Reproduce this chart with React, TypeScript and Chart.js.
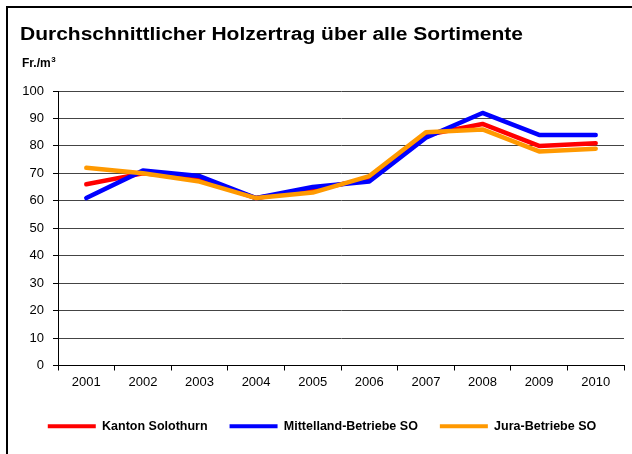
import React, { useEffect, useRef } from "react";
import { Chart, registerables } from "chart.js";

Chart.register(...registerables);

const titleText = "Durchschnittlicher Holzertrag über alle Sortimente";
const unitBase = "Fr./m";
const unitSup = "3";
const years = ["2001", "2002", "2003", "2004", "2005", "2006", "2007", "2008", "2009", "2010"];
const seriesNames = ["Kanton Solothurn", "Mittelland-Betriebe SO", "Jura-Betriebe SO"];
const kanton = [66, 70, 68, 61, 64, 68, 84, 88, 80, 81];
const mittelland = [61, 71, 69, 61, 65, 67, 83, 92, 84, 84];
const jura = [72, 70, 67, 61, 63, 69, 85, 86, 78, 79];
const yMin = 0;
const yMax = 100;
const yStep = 10;

const FONT = "'Liberation Sans', Arial, Helvetica, sans-serif";

const framePlugin = {
  id: "frame",
  beforeDraw(chart: any) {
    const ctx = chart.ctx;
    ctx.save();
    ctx.fillStyle = "#ffffff";
    ctx.fillRect(0, 0, chart.width, chart.height);
    ctx.restore();
  },
  afterDraw(chart: any) {
    const ctx = chart.ctx;
    ctx.save();
    ctx.fillStyle = "#000000";
    ctx.fillRect(6, 6, chart.width - 6, 2);
    ctx.fillRect(6, 6, 2, chart.height - 6);
    ctx.textBaseline = "alphabetic";
    ctx.textAlign = "left";
    ctx.font = `bold 18px ${FONT}`;
    const w = ctx.measureText(titleText).width;
    const sx = 503 / w;
    ctx.save();
    ctx.translate(20, 39.5);
    ctx.scale(sx, 1);
    ctx.fillText(titleText, 0, 0);
    ctx.restore();
    ctx.font = `bold 12px ${FONT}`;
    ctx.fillText(unitBase, 22, 67);
    const bw = ctx.measureText(unitBase).width;
    ctx.font = `bold 8px ${FONT}`;
    ctx.fillText(unitSup, 22 + bw + 0.5, 62);
    ctx.restore();
  },
};

export default function App() {
  const ref = useRef<HTMLCanvasElement>(null);
  useEffect(() => {
    if (!ref.current) return;
    const mk = (label: string, data: number[], color: string, order: number) => ({
      label,
      data,
      borderColor: color,
      backgroundColor: color,
      borderWidth: 4.5,
      pointRadius: 0,
      borderJoinStyle: "round" as const,
      borderCapStyle: "round" as const,
      tension: 0,
      order,
    });
    const chart = new Chart(ref.current, {
      type: "line",
      data: {
        labels: years,
        datasets: [
          mk(seriesNames[0], kanton, "#ff0000", 2),
          mk(seriesNames[1], mittelland, "#0000ff", 1),
          mk(seriesNames[2], jura, "#ff9900", 0),
        ],
      },
      options: {
        animation: false,
        responsive: false,
        devicePixelRatio: 1,
        layout: { padding: { left: 20, right: 8, top: 91, bottom: 11.5 } },
        plugins: {
          title: { display: false },
          tooltip: { enabled: false },
          legend: {
            display: true,
            position: "bottom",
            labels: {
              boxWidth: 48,
              boxHeight: 4,
              padding: 22,
              color: "#000",
              font: { family: FONT, size: 12.5, weight: "bold" },
              sort: (a: any, b: any) => a.datasetIndex - b.datasetIndex,
              generateLabels(chart: any) {
                const items = Chart.defaults.plugins.legend.labels.generateLabels(chart);
                return items.map((it: any) => ({ ...it, lineWidth: 0 }));
              },
            },
          },
        },
        scales: {
          x: {
            offset: true,
            afterFit(scale: any) {
              scale.height = 32.5;
            },
            grid: {
              display: true,
              drawOnChartArea: false,
              drawTicks: true,
              tickLength: 5,
              offset: true,
              color: "#000",
            },
            border: { display: true, color: "#000", width: 1 },
            ticks: { color: "#000", padding: 4, font: { family: FONT, size: 13 }, maxRotation: 0 },
          },
          y: {
            min: yMin,
            max: yMax,
            afterFit(scale: any) {
              scale.width = 38;
            },
            ticks: { stepSize: yStep, color: "#000", padding: 9, font: { family: FONT, size: 13 } },
            grid: { color: "#444", tickLength: 5, tickColor: "#000" },
            border: { display: true, color: "#000", width: 1 },
          },
        },
      },
      plugins: [framePlugin],
    });
    return () => chart.destroy();
  }, []);
  return (
    <div style={{ position: "fixed", left: 0, top: 0, width: 632, height: 454 }}>
      <canvas ref={ref} width={632} height={454} style={{ display: "block" }} />
    </div>
  );
}
